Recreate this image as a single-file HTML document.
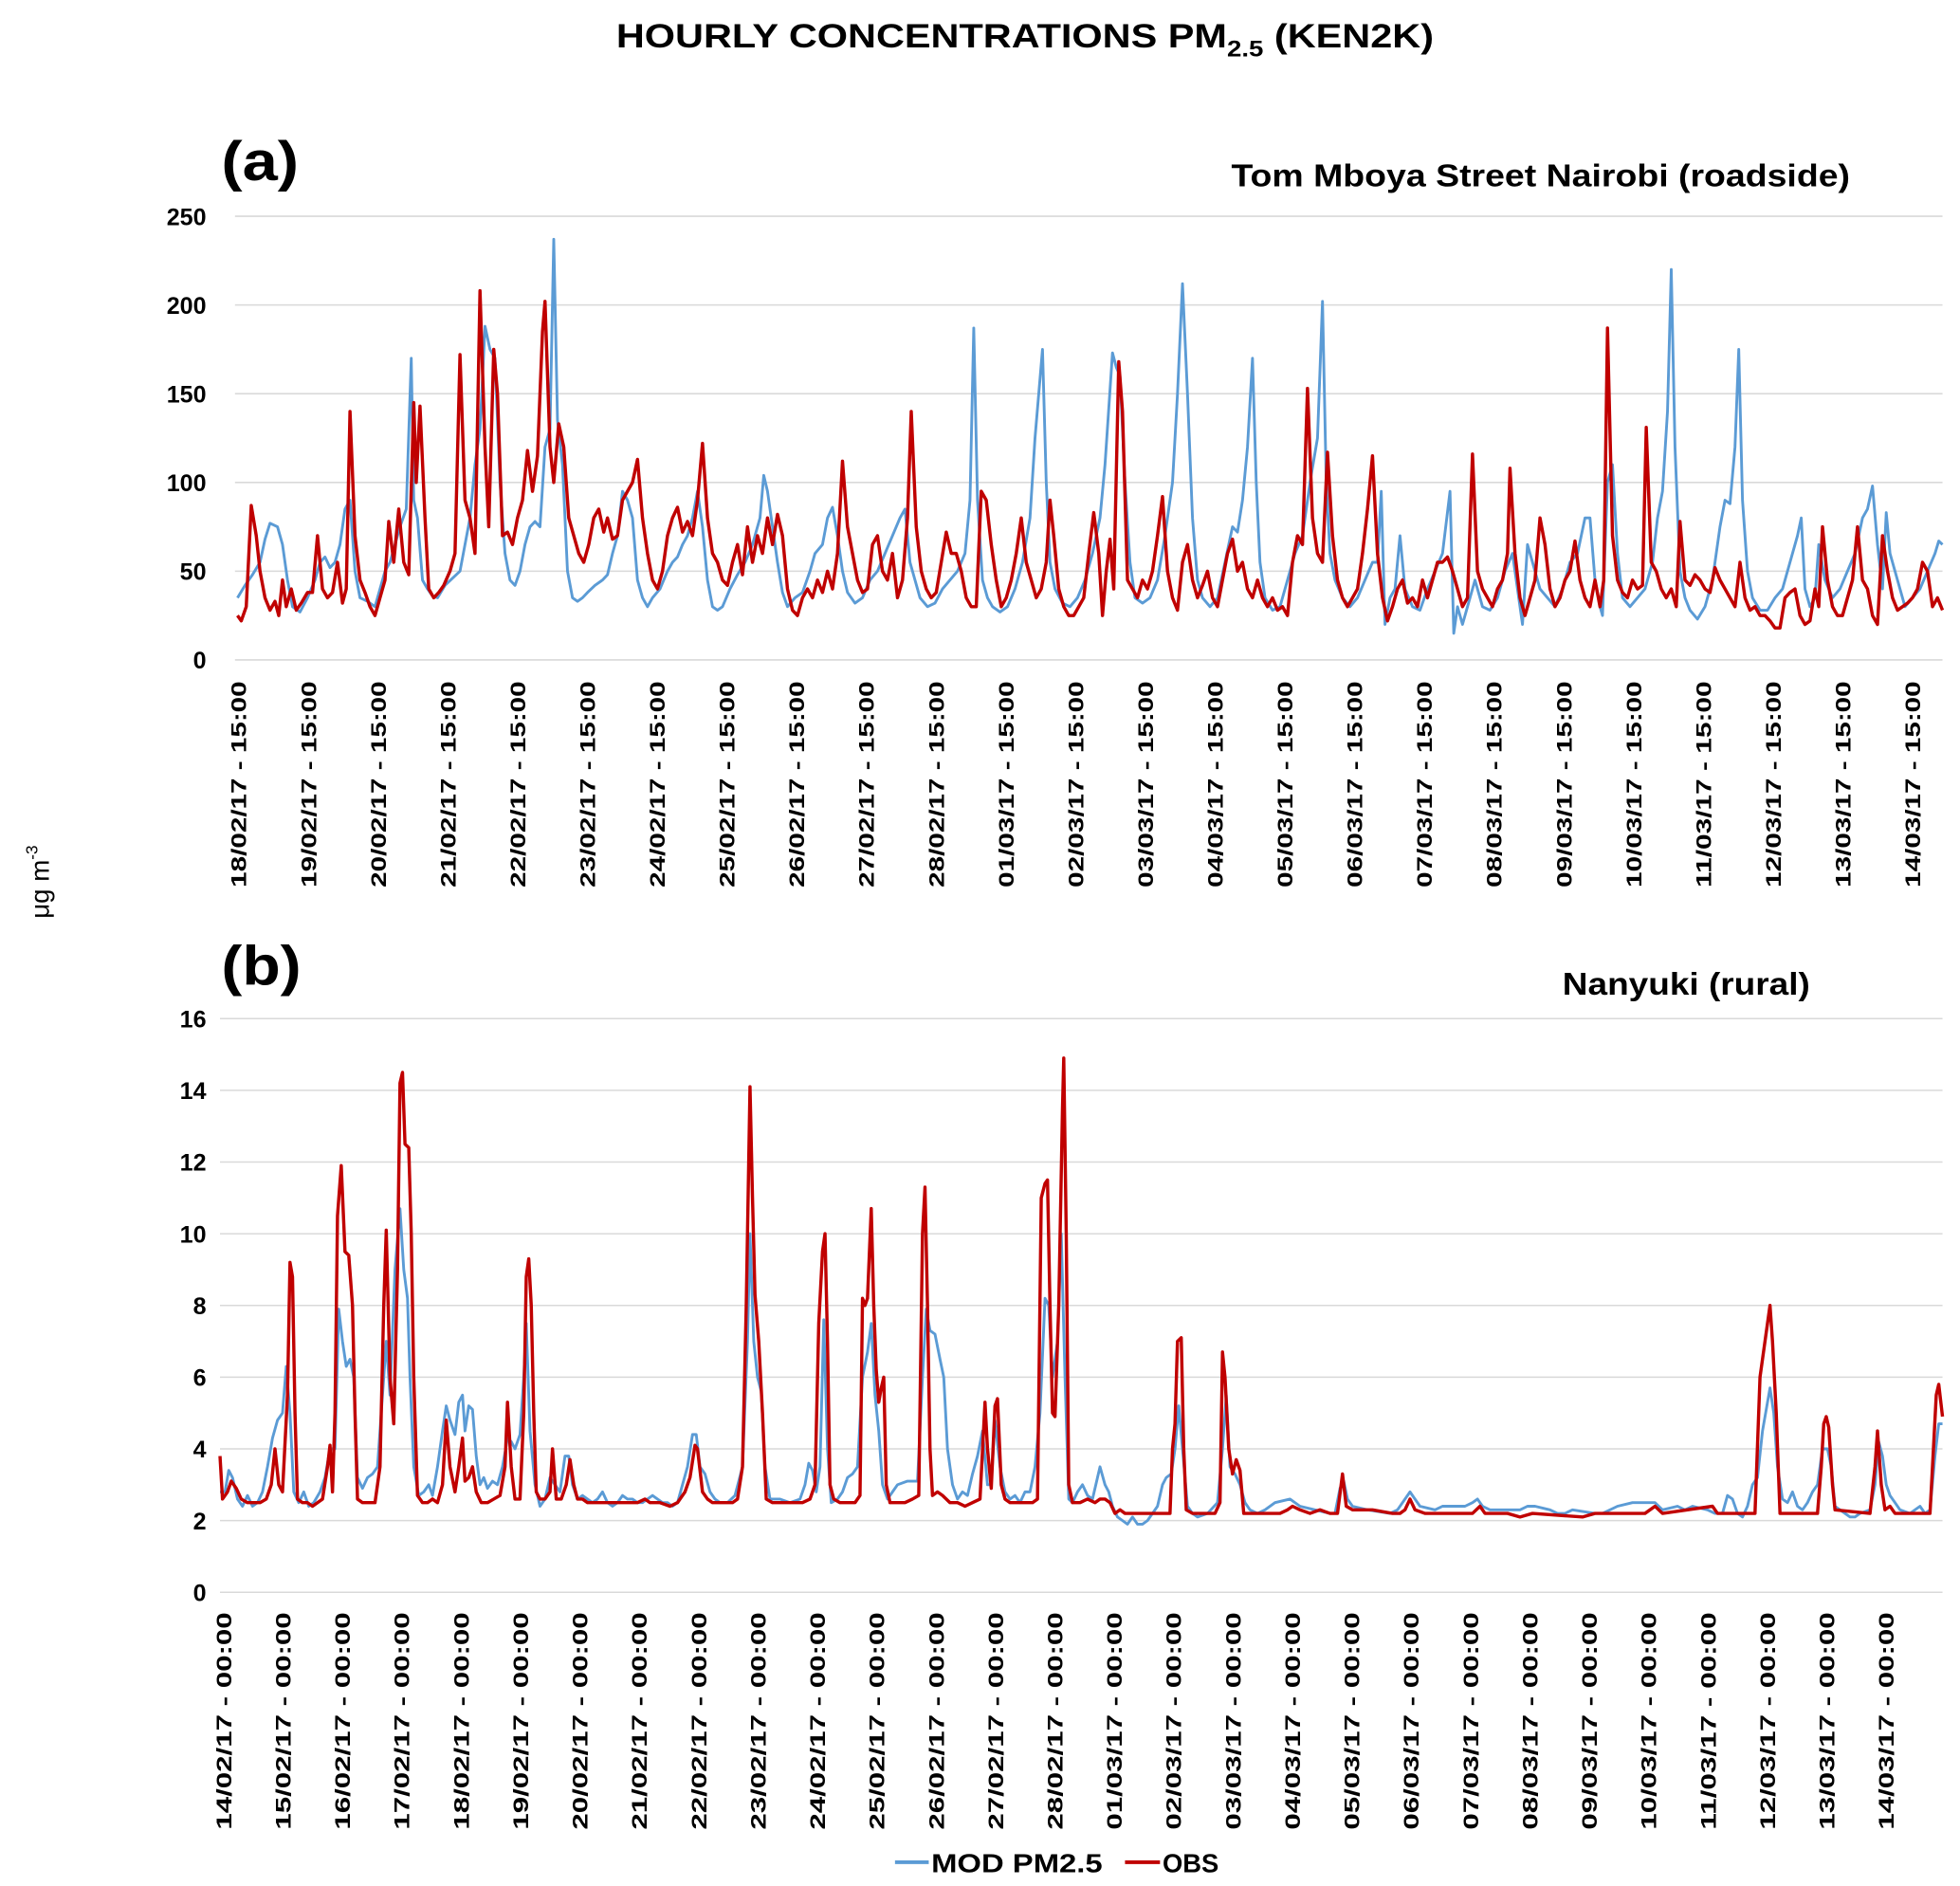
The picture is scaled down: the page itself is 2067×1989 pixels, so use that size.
<!DOCTYPE html>
<html><head><meta charset="utf-8"><title>Hourly concentrations PM2.5 (KEN2K)</title>
<style>html,body{margin:0;padding:0;background:#fff;}svg{display:block;}text{font-family:"Liberation Sans",sans-serif;}</style>
</head><body>
<svg id="chart" width="2067" height="1989" viewBox="0 0 1568 1509" preserveAspectRatio="none" xmlns="http://www.w3.org/2000/svg">
<rect width="1568" height="1509" fill="#fff"/>
<text x="820" y="38" text-anchor="middle" font-weight="bold" font-size="27" textLength="654" lengthAdjust="spacingAndGlyphs">HOURLY CONCENTRATIONS PM<tspan font-size="18" dy="7">2.5</tspan><tspan dy="-7"> (KEN2K)</tspan></text>
<text x="177" y="144" font-weight="bold" font-size="44" textLength="62" lengthAdjust="spacingAndGlyphs">(a)</text>
<text x="1480" y="149" text-anchor="end" font-weight="bold" font-size="25" textLength="495" lengthAdjust="spacingAndGlyphs">Tom Mboya Street Nairobi (roadside)</text>
<text x="177" y="788" font-weight="bold" font-size="44" textLength="64" lengthAdjust="spacingAndGlyphs">(b)</text>
<text x="1448" y="796" text-anchor="end" font-weight="bold" font-size="25" textLength="198" lengthAdjust="spacingAndGlyphs">Nanyuki (rural)</text>
<text transform="translate(39,735) rotate(-90)" font-size="21">μg m<tspan font-size="13" dy="-9">-3</tspan></text>
<g id="gA"></g><g id="gB"></g>
<g>
<line x1="716" y1="1490" x2="743" y2="1490" stroke="#5b9bd5" stroke-width="3"/>
<text x="745" y="1498" font-size="21" font-weight="bold" textLength="137" lengthAdjust="spacingAndGlyphs">MOD PM2.5</text>
<line x1="900" y1="1490" x2="928" y2="1490" stroke="#c00000" stroke-width="3"/>
<text x="930" y="1498" font-size="21" font-weight="bold" textLength="45" lengthAdjust="spacingAndGlyphs">OBS</text>
</g>
</svg>
<script>
// Panel (a): [time (half-units), value µg/m3]
const ticksA = [0,50,100,150,200,250];
const datesA = ["18/02/17","19/02/17","20/02/17","21/02/17","22/02/17","23/02/17","24/02/17","25/02/17","26/02/17","27/02/17","28/02/17","01/03/17","02/03/17","03/03/17","04/03/17","05/03/17","06/03/17","07/03/17","08/03/17","09/03/17","10/03/17","11/03/17","12/03/17","13/03/17","14/03/17"];
const obsA = [[0,25],[1.5,22],[3.5,30],[5.5,87],[7.5,70],[9,50],[11,35],[13,28],[15,33],[16.5,25],[18,45],[19.5,30],[21.5,40],[23.5,28],[25.5,32],[28,38],[30,38],[32,70],[34,40],[36,35],[38,38],[40,55],[42,32],[43.5,40],[45,140],[47,70],[49,45],[51,38],[53,30],[55,25],[57,35],[59,45],[60.5,78],[62.5,55],[64.5,85],[66.5,55],[68.5,48],[70.5,145],[71.5,100],[73,143],[75,80],[76.5,40],[78.5,35],[80.5,38],[82.5,42],[85,50],[87,60],[89,172],[91,90],[93,80],[95,60],[97,208],[99,120],[100.5,75],[102.5,175],[104,150],[106,70],[108,72],[110,65],[112,80],[114,90],[116,118],[118,95],[120,115],[122,185],[123,202],[125,120],[126.5,100],[128.5,133],[130.5,120],[132.5,80],[134.5,70],[136.5,60],[138.5,55],[140.5,65],[142.5,80],[144.5,85],[146.5,72],[148,80],[150,68],[152,70],[154,90],[156,95],[158,100],[160,113],[162,80],[164,60],[166,45],[168,40],[170,50],[172,70],[174,80],[176,86],[178,72],[180,78],[182,70],[184,90],[186,122],[188,80],[190,60],[192,55],[194,45],[196,42],[198,55],[200,65],[202,48],[204,75],[206,55],[208,70],[210,60],[212,80],[214,65],[216,82],[218,70],[220,40],[222,28],[224,25],[226,35],[228,40],[230,35],[232,45],[234,38],[236,50],[238,40],[240,60],[242,112],[244,75],[246,60],[248,45],[250,38],[252,40],[254,65],[256,70],[258,50],[260,45],[262,60],[264,35],[266,45],[268,80],[269.5,140],[271.5,75],[273.5,50],[275.5,40],[277.5,35],[279.5,38],[281.5,55],[283.5,72],[285.5,60],[287.5,60],[289.5,50],[291.5,35],[293.5,30],[295.5,30],[297.5,95],[299.5,90],[301.5,65],[303.5,45],[305.5,30],[307.5,35],[309.5,45],[311.5,60],[313.5,80],[315.5,55],[317.5,45],[319.5,35],[321.5,40],[323.5,55],[325,90],[326.5,70],[328.5,40],[330.5,30],[332.5,25],[334.5,25],[336.5,30],[338.5,35],[340.5,60],[342.5,83],[344.5,60],[346,25],[347.5,50],[349,68],[350.5,40],[352.5,168],[354,140],[356,45],[358,40],[360,35],[362,45],[364,40],[366,50],[368,70],[370,92],[372,50],[374,35],[376,28],[378,55],[380,65],[382,45],[384,35],[386,42],[388,50],[390,35],[392,30],[394,45],[396,60],[398,68],[400,50],[402,55],[404,40],[406,35],[408,45],[410,35],[412,30],[414,35],[416,28],[418,30],[420,25],[422,55],[424,70],[426,65],[428,153],[430,80],[432,60],[434,55],[436,117],[438,70],[440,45],[442,35],[444,30],[446,35],[448,40],[450,60],[452,85],[454,115],[456,60],[458,35],[460,22],[462,30],[464,40],[466,45],[468,32],[470,35],[472,30],[474,45],[476,35],[478,45],[480,55],[482,55],[484,58],[486,50],[488,40],[490,30],[492,35],[494,116],[496,50],[498,40],[500,35],[502,30],[504,40],[506,45],[508,60],[509,108],[511,60],[513,35],[515,25],[517,35],[519,45],[521,80],[523,65],[525,40],[527,30],[529,35],[531,45],[533,50],[535,67],[537,45],[539,35],[541,30],[543,45],[545,30],[546.5,45],[548,187],[550,70],[552,45],[554,38],[556,35],[558,45],[560,40],[562,42],[563.5,131],[565.5,55],[567.5,50],[569.5,40],[571.5,35],[573.5,40],[575.5,30],[577,78],[579,45],[581,42],[583,48],[585,45],[587,40],[589,38],[591,52],[593,45],[595,40],[597,35],[599,30],[601,55],[603,35],[605,28],[607,30],[609,25],[611,25],[613,22],[615,18],[617,18],[619,35],[621,38],[623,40],[625,25],[627,20],[629,22],[631,40],[632.5,30],[634,75],[636,45],[638,30],[640,25],[642,25],[644,35],[646,45],[648,75],[650,45],[652,40],[654,25],[656,20],[658,70],[660,50],[662,35],[664,28],[666,30],[668,32],[670,35],[672,40],[674,55],[676,50],[678,30],[680,35],[682,28]];
const modA = [[0,35],[3,42],[6,48],[9,55],[11,68],[13,77],[16,75],[18,65],[20,45],[22,30],[25,27],[28,35],[31,45],[33,55],[35,58],[37,52],[39,55],[41,65],[43,85],[45,90],[47,50],[49,35],[52,33],[55,30],[57,40],[59,50],[61,55],[63,65],[65,75],[67.5,85],[69.5,170],[70.5,90],[72,80],[74,45],[76,40],[78,36],[80,35],[83,42],[86,46],[89,50],[91,65],[93,80],[95,110],[97,130],[99,188],[101,175],[103,170],[105,100],[107,60],[109,45],[111,42],[113,50],[115,65],[117,75],[119,78],[121,75],[123,120],[125,130],[126.5,237],[128,135],[130,110],[132,50],[134,35],[136,33],[138,35],[140,38],[143,42],[146,45],[148,48],[150,60],[152,70],[154,95],[156,90],[158,80],[160,45],[162,35],[164,30],[166,35],[169,40],[172,50],[174,55],[176,58],[178,65],[180,70],[182,80],[184,95],[186,75],[188,45],[190,30],[192,28],[194,30],[197,40],[200,48],[203,55],[206,65],[209,80],[210.5,104],[212,95],[214,75],[216,55],[218,38],[220,30],[223,35],[226,38],[229,50],[231,60],[234,65],[236,80],[238,86],[240,70],[242,50],[244,38],[247,32],[250,35],[253,45],[256,50],[259,60],[262,70],[265,80],[267,85],[269,55],[271,45],[273,35],[276,30],[279,32],[282,40],[285,45],[288,50],[291,60],[293,90],[294.5,187],[296,90],[298,45],[300,35],[302,30],[305,27],[308,30],[311,40],[314,55],[317,80],[319,125],[322,175],[323.5,100],[325,55],[327,40],[330,32],[333,30],[336,35],[339,45],[342,60],[345,80],[347,110],[350,173],[351.5,165],[353,160],[355,100],[357,55],[359,35],[362,32],[365,35],[368,45],[371,70],[374,100],[376,150],[378,212],[380,150],[382,80],[384,45],[386,35],[389,30],[392,35],[395,55],[398,75],[400,72],[402,90],[404,120],[406,170],[407.5,100],[409,55],[411,35],[414,28],[417,30],[420,45],[423,60],[426,70],[429,100],[432,125],[434,202],[435.5,100],[437,60],[439,45],[442,35],[445,30],[448,35],[451,45],[454,55],[456,55],[457.5,95],[459,20],[461,35],[463,40],[465,70],[467,40],[470,30],[473,28],[476,40],[479,50],[482,60],[485,95],[486.5,15],[488,30],[490,20],[492,30],[495,45],[498,30],[501,28],[504,35],[507,50],[510,60],[513,30],[514,20],[516,65],[518,55],[521,40],[524,35],[527,30],[530,40],[533,55],[536,60],[539,80],[541,80],[543,45],[545,30],[546,25],[548,100],[550,110],[552,60],[554,35],[557,30],[560,35],[563,40],[566,55],[568,80],[570,95],[572,140],[573.5,220],[575,120],[577,50],[579,35],[581,28],[584,23],[587,30],[590,45],[593,75],[595,90],[597,88],[599,120],[600.5,175],[602,90],[604,50],[606,35],[609,28],[612,28],[615,35],[618,40],[621,55],[624,70],[625.5,80],[627,40],[629,30],[631,35],[632.5,65],[635,45],[638,35],[641,40],[644,50],[647,60],[650,80],[652,85],[654,98],[656,65],[658,40],[659.5,83],[661,60],[664,45],[667,30],[670,35],[673,40],[676,50],[679,60],[680.5,67],[682,65]];

// Panel (b)
const ticksB = [0,2,4,6,8,10,12,14,16];
const datesB = ["14/02/17","15/02/17","16/02/17","17/02/17","18/02/17","19/02/17","20/02/17","21/02/17","22/02/17","23/02/17","24/02/17","25/02/17","26/02/17","27/02/17","28/02/17","01/03/17","02/03/17","03/03/17","04/03/17","05/03/17","06/03/17","07/03/17","08/03/17","09/03/17","10/03/17","11/03/17","12/03/17","13/03/17","14/03/17"];
const obsB = [[-1,3.8],[0,2.6],[2,2.8],[3.5,3.1],[5.5,2.9],[7.5,2.6],[10,2.5],[12.5,2.5],[15,2.5],[17.5,2.6],[19.5,3.0],[21,4.0],[22.5,3.0],[24,2.8],[26,5.5],[27,9.2],[28,8.8],[29,5],[30,2.6],[32,2.5],[34,2.5],[36,2.4],[38,2.5],[40,2.6],[42,3.5],[43,4.1],[44,2.8],[45,5],[46,10.5],[47.5,11.9],[49,9.5],[50.5,9.4],[52,8],[53,5],[54,2.6],[56,2.5],[58.5,2.5],[61,2.5],[63,3.5],[64.5,8],[65.5,10.1],[67,6],[68.5,4.7],[70,9],[71,14.2],[72,14.5],[73,12.5],[74.5,12.4],[75.5,10],[76.5,6],[78,2.7],[80,2.5],[82,2.5],[84,2.6],[86,2.5],[88,3],[89.5,4.8],[91,3.5],[93,2.8],[94.5,3.5],[96,4.3],[97,3.1],[98.5,3.2],[100,3.5],[101.5,2.8],[103.5,2.5],[106,2.5],[108.5,2.6],[111,2.7],[113,3.5],[114,5.3],[115.5,3.5],[117,2.6],[119,2.6],[120.5,5],[121.5,8.8],[122.5,9.3],[123.5,8],[124.5,5],[125.5,2.8],[127,2.6],[129,2.6],[131,2.8],[132,4],[133.5,2.6],[135.5,2.6],[137.5,3],[139,3.7],[140.5,3],[142,2.6],[144,2.6],[146,2.5],[150,2.5],[154,2.5],[158,2.5],[162,2.5],[166,2.5],[169,2.6],[171,2.5],[175,2.5],[179,2.4],[182,2.5],[185,2.8],[187,3.2],[189,4.1],[190,4],[192,2.8],[194,2.6],[196,2.5],[200,2.5],[204,2.5],[206,2.6],[208,3.5],[209.5,8],[211,14.1],[212,11],[213,8.3],[214.5,7],[216,5],[217.5,2.6],[220,2.5],[223,2.5],[226,2.5],[229,2.5],[232,2.5],[235,2.6],[237,3],[238.5,7.5],[240,9.5],[241,10],[242,7],[243,3],[244.5,2.6],[247,2.5],[250,2.5],[253,2.5],[255,2.7],[256,8.2],[257,8],[258,8.2],[259.5,10.7],[260.5,8],[261.5,6.2],[262.5,5.3],[263.5,5.7],[264.5,6],[265.5,3],[267,2.5],[270,2.5],[273,2.5],[276,2.6],[278.5,2.7],[280,10],[281,11.3],[282,8],[283,4],[284,2.7],[286,2.8],[288,2.7],[291,2.5],[294,2.5],[297,2.4],[300,2.5],[303,2.6],[305,5.3],[306,4],[307.5,2.9],[309,5.2],[310,5.4],[311.5,3],[313,2.6],[315,2.5],[318,2.5],[321,2.5],[324,2.5],[326,2.6],[327.5,11],[329,11.4],[330,11.5],[331,8],[332,5],[333,4.9],[334.5,8],[336,13.5],[336.5,14.9],[337.5,10],[338.5,3],[340,2.5],[343,2.5],[346,2.6],[349,2.5],[351,2.6],[353,2.6],[355,2.5],[357,2.2],[359,2.3],[361,2.2],[364,2.2],[370,2.2],[376,2.2],[379,2.2],[380,4],[381,4.7],[382,7],[383.5,7.1],[384.5,4],[385.5,2.3],[388,2.2],[394,2.2],[397,2.2],[399,2.5],[400,6.7],[401,6],[402.5,4],[404,3.3],[405.5,3.7],[407,3.4],[408.5,2.2],[415,2.2],[423,2.2],[426,2.3],[428,2.4],[431,2.3],[435,2.2],[439,2.3],[443,2.2],[446,2.2],[448,3.3],[449.5,2.4],[452,2.3],[460,2.3],[468,2.2],[471,2.2],[473,2.3],[475,2.6],[477,2.3],[481,2.2],[500,2.2],[503,2.4],[505,2.2],[514,2.2],[519,2.1],[524,2.2],[544,2.1],[549,2.2],[569,2.2],[573,2.4],[576,2.2],[596,2.4],[598,2.2],[613,2.2],[615,6],[617,7],[619,8],[620,7],[621.5,5],[623,2.2],[638,2.2],[639.5,3.5],[640.5,4.7],[641.5,4.9],[642.5,4.6],[644,3],[645,2.3],[659,2.2],[661,3.5],[662,4.5],[663.5,3],[665,2.3],[667,2.4],[669,2.2],[683,2.2],[684,3.5],[685.5,5.5],[686.5,5.8],[688,4.9]];
const modB = [[-1,2.8],[1,2.8],[2.5,3.4],[4,3.2],[6,2.6],[8,2.4],[10,2.7],[12,2.4],[14,2.5],[16,2.8],[18,3.5],[20,4.3],[22,4.8],[24,5],[25.5,6.3],[27,5],[28.5,2.8],[30.5,2.5],[32.5,2.8],[34.5,2.4],[36.5,2.5],[39,2.8],[41,3.2],[43,4],[45,4],[46.5,7.9],[48,7],[49.5,6.3],[51,6.5],[52.5,6],[54,3.2],[56,2.9],[58,3.2],[60,3.3],[62,3.5],[64,5.5],[65.5,7],[67,5.5],[69,9],[71,10.7],[72.5,9],[74,8.2],[75,6],[76.5,3.5],[78.5,2.7],[80.5,2.8],[82.5,3],[84,2.7],[86,3.5],[88,4.5],[89.5,5.2],[91,4.8],[93,4.4],[94.5,5.3],[96,5.5],[97,4.5],[98.5,5.2],[100,5.1],[101.5,3.8],[103,3],[104.5,3.2],[106,2.9],[108,3.1],[110,3],[112,3.5],[114,4.3],[115.5,4.2],[117,4],[119,4.4],[120.5,6],[121.5,7.5],[123,4.5],[125,3],[127,2.4],[129,2.6],[131,3.2],[133,3.0],[135,2.8],[137,3.8],[138.5,3.8],[140,3],[142,2.6],[144,2.7],[146,2.6],[148,2.5],[150,2.6],[152,2.8],[154,2.5],[156,2.4],[158,2.5],[160,2.7],[162,2.6],[164,2.6],[166,2.5],[168,2.5],[170,2.6],[172,2.7],[174,2.6],[176,2.5],[178,2.5],[180,2.4],[182,2.5],[184,3],[186,3.5],[188,4.4],[189.5,4.4],[191,3.5],[193,3.3],[195,2.8],[197,2.6],[199,2.5],[202,2.5],[205,2.7],[208,3.5],[210,7],[211,10],[212.5,7],[214,6],[215.5,5.6],[217,3.5],[219,2.6],[223,2.6],[227,2.5],[231,2.6],[233,3],[234.5,3.6],[236,3.4],[237.5,2.8],[239,3.5],[240.5,7.6],[242,4],[243.5,2.5],[246,2.6],[248,2.8],[250,3.2],[252,3.3],[254,3.5],[256,6],[258,6.7],[259.5,7.5],[261,5.5],[262.5,4.5],[264,3],[266,2.6],[268,2.8],[270,3],[274,3.1],[278,3.1],[280,6],[281.5,7.9],[283,7.3],[285,7.2],[287,6.5],[288.5,6],[290,4],[292,3],[294,2.6],[296,2.8],[298,2.7],[300,3.3],[302,3.8],[304,4.5],[306,3],[307.5,3],[309,4.8],[311,3.5],[313,2.8],[315,2.6],[317,2.7],[319,2.5],[321,2.8],[323,2.8],[325,3.5],[327,5],[329,8.2],[330.5,8],[332,6],[334,7],[335.5,10],[337,6],[338.5,2.6],[340,2.5],[342,2.8],[344,3],[346,2.7],[348,2.6],[350,3.2],[351,3.5],[353,3],[354.5,2.8],[356,2.4],[358,2.1],[360,2],[362,1.9],[364,2.1],[366,1.9],[368,1.9],[370,2],[372,2.2],[374,2.4],[376,3],[377.5,3.2],[379.5,3.3],[381,4],[382.5,5.2],[384,4],[386,2.4],[388,2.2],[390,2.1],[394,2.2],[398,2.5],[400,4],[401.5,5.5],[403,3.5],[405,3.3],[407,3],[409,2.5],[411,2.3],[414,2.2],[417,2.3],[421,2.5],[427,2.6],[431,2.4],[437,2.3],[443,2.2],[445,2.2],[447,2.9],[448.5,3.1],[450,2.6],[452,2.4],[458,2.3],[467,2.2],[470,2.3],[473,2.6],[475,2.8],[477,2.6],[479,2.4],[485,2.3],[488,2.4],[497,2.4],[500,2.5],[502,2.6],[504,2.4],[507,2.3],[519,2.3],[522,2.4],[525,2.4],[531,2.3],[534,2.2],[537,2.2],[540,2.3],[549,2.2],[552,2.2],[558,2.4],[564,2.5],[573,2.5],[576,2.3],[582,2.4],[585,2.3],[588,2.4],[594,2.3],[597,2.2],[600,2.2],[602,2.7],[604,2.6],[606,2.2],[608,2.1],[610,2.4],[612,3.0],[614,3.2],[616,4.5],[618,5.3],[619,5.7],[620.5,5],[622,3.5],[624,2.6],[626,2.5],[628,2.8],[630,2.4],[632,2.3],[634,2.5],[636,2.8],[638,3.0],[640,4],[642,4],[643.5,3.5],[645,2.4],[647,2.3],[649,2.2],[651,2.1],[653,2.1],[655,2.2],[659,2.3],[661,3],[662.5,4.2],[664,3.8],[665.5,3],[667,2.7],[669,2.5],[671,2.3],[675,2.2],[679,2.4],[681,2.2],[683,2.3],[685,3.8],[686.5,4.7],[688,4.7]];

const NS = "http://www.w3.org/2000/svg";
function mk(tag, attrs, parent){ const e=document.createElementNS(NS,tag); for(const k in attrs) e.setAttribute(k,attrs[k]); parent.appendChild(e); return e; }

function drawPanel(g, cfg){
  const xScale = t => cfg.x0 + t*cfg.pxPerT;
  const yScale = v => cfg.yZero - (v/cfg.yMax)*(cfg.yZero-cfg.yTop);
  cfg.ticks.forEach(tv=>{
    const ln = mk('line',{x1:cfg.gridLeft,x2:cfg.gridRight,y1:yScale(tv),y2:yScale(tv),stroke:'#d9d9d9','stroke-width':1.2},g);
    
    
    const tx = mk('text',{x:165,y:yScale(tv)+7,'text-anchor':'end','font-size':19,'font-weight':'bold'},g);
    tx.textContent = String(tv);
    
    
  });
  cfg.dates.forEach((d,k)=>{
    const cx = cfg.x0 + k*cfg.dayPx;
    const tx = mk('text',{transform:`translate(${cx+7},${cfg.labelTop}) rotate(-90)`,'text-anchor':'end','font-size':17,'font-weight':'bold',textLength:cfg.labelLen,lengthAdjust:'spacingAndGlyphs'},g);
    tx.textContent = d + ' - ' + cfg.hour;
    
    
  });
  const series = [[cfg.mod,'#5b9bd5',2.2,'mod-pm25-line'],[cfg.obs,'#c00000',2.6,'obs-line']];
  series.forEach(([data,col,w,name])=>{
    const dstr = data.map((p,i)=>(i?'L':'M')+xScale(p[0]).toFixed(2)+' '+yScale(p[1]).toFixed(2)).join(' ');
    const path = mk('path',{d:dstr,fill:'none',stroke:col,'stroke-width':w,'stroke-linejoin':'round'},g);
    
    
  });
}
drawPanel(document.getElementById('gA'),{x0:190,pxPerT:2,dayPx:55.8,yZero:528,yTop:173,yMax:250,gridLeft:188,gridRight:1554,ticks:ticksA,dates:datesA,hour:'15:00',labelTop:545,labelLen:165,mod:modA,obs:obsA,prefix:'panel-a'});
drawPanel(document.getElementById('gB'),{x0:178,pxPerT:2,dayPx:47.5,yZero:1274,yTop:815,yMax:16,gridLeft:176,gridRight:1554,ticks:ticksB,dates:datesB,hour:'00:00',labelTop:1290,labelLen:174,mod:modB,obs:obsB,prefix:'panel-b'});
</script>
</body></html>
